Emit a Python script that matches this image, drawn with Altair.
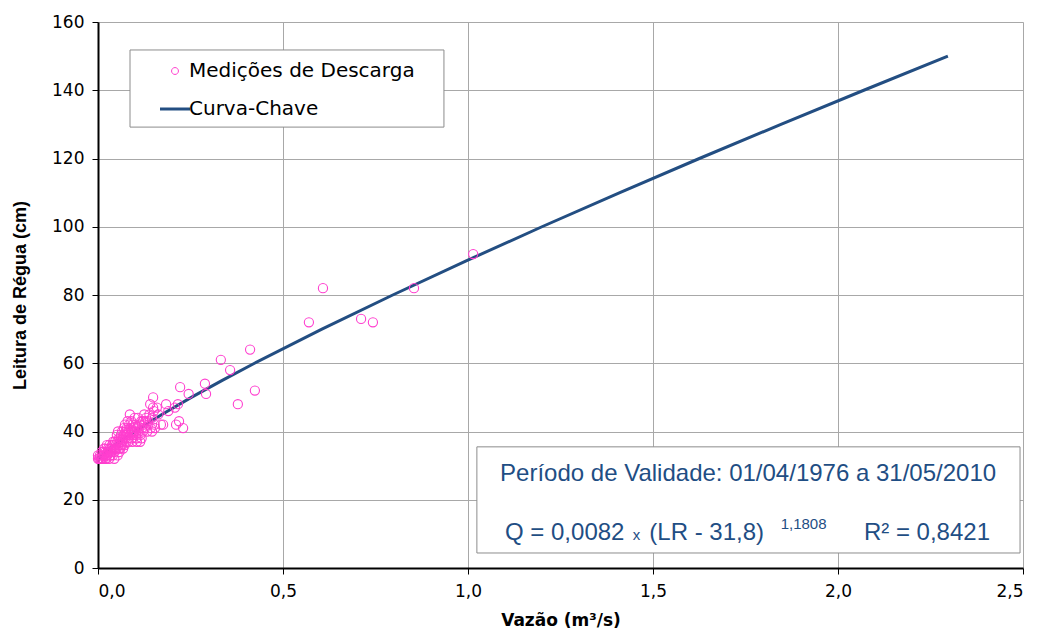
import altair as alt
import pandas as pd

# Medições de descarga: vazão (m³/s) e leitura de régua (cm)
vazao_medida = [
    0.000, 0.003, 0.005, 0.008, 0.010, 0.012, 0.014, 0.016, 0.018, 0.020,
    0.022, 0.024, 0.025, 0.027, 0.028, 0.030, 0.031, 0.033, 0.035, 0.036,
    0.038, 0.040, 0.041, 0.043, 0.045, 0.046, 0.048, 0.050, 0.051, 0.053,
    0.054, 0.055, 0.057, 0.058, 0.059, 0.060, 0.062, 0.063, 0.065, 0.065,
    0.067, 0.068, 0.070, 0.071, 0.072, 0.073, 0.074, 0.075, 0.077, 0.078,
    0.079, 0.080, 0.081, 0.082, 0.084, 0.086, 0.087, 0.088, 0.090, 0.091,
    0.092, 0.094, 0.095, 0.097, 0.099, 0.100, 0.102, 0.104, 0.105, 0.106,
    0.108, 0.110, 0.112, 0.114, 0.115, 0.117, 0.119, 0.121, 0.122, 0.124,
    0.127, 0.130, 0.133, 0.136, 0.139, 0.141, 0.143, 0.146, 0.146, 0.149,
    0.149, 0.151, 0.153, 0.154, 0.159, 0.163, 0.170, 0.176, 0.184, 0.190,
    0.208, 0.211, 0.216, 0.219, 0.222, 0.230, 0.245, 0.289, 0.292, 0.332,
    0.357, 0.378, 0.411, 0.424, 0.570, 0.608, 0.711, 0.743, 0.854, 1.014,
    0.015, 0.019, 0.026, 0.032, 0.037, 0.042, 0.047, 0.052, 0.056, 0.061,
    0.066, 0.069, 0.076, 0.083, 0.089, 0.096, 0.103, 0.118, 0.128, 0.135,
    0.125, 0.093, 0.006, 0.020, 0.034, 0.044, 0.011, 0.000,
]
leitura_medida = [
    32, 32, 33, 32, 34, 33, 32, 35, 33, 34,
    32, 36, 33, 35, 34, 32, 36, 33, 35, 34,
    36, 33, 37, 35, 34, 37, 36, 35, 39, 33,
    40, 36, 38, 34, 37, 35, 39, 36, 40, 37,
    38, 35, 41, 39, 36, 42, 38, 40, 37, 41,
    39, 43, 38, 40, 42, 45, 39, 41, 43, 38,
    40, 42, 39, 41, 44, 40, 42, 38, 37, 41,
    44, 40, 42, 37, 39, 43, 41, 40, 43, 42,
    41, 44, 40, 42, 45, 48, 41, 44, 40, 50,
    47, 46, 42, 41, 47, 45, 42, 42, 48, 46,
    47, 42, 48, 43, 53, 41, 51, 54, 51, 61,
    58, 48, 64, 52, 72, 82, 73, 72, 82, 92,
    33, 35, 34, 35, 34, 36, 35, 37, 35, 38,
    36, 39, 39, 37, 40, 40, 39, 38, 43, 43,
    45, 37, 32, 32, 33, 32, 32, 33,
]

# Curva-chave tabelada: leitura de régua (cm) e vazão correspondente (m³/s)
curva_leitura = [31.8, 33, 34, 35, 36, 40, 45, 50, 55, 60, 70, 80, 90,
                 100, 110, 120, 130, 140, 150]
curva_vazao = [0.0, 0.0102, 0.0208, 0.0324, 0.0446, 0.0984, 0.1726, 0.2522,
               0.3359, 0.4230, 0.6052, 0.7966, 0.9951, 1.1998, 1.4104,
               1.6253, 1.8458, 2.0697, 2.2970]

x_ticks = [0.0, 0.5, 1.0, 1.5, 2.0, 2.5]
y_ticks = [0, 20, 40, 60, 80, 100, 120, 140, 160]

series = ["Medições de Descarga", "Curva-Chave"]

MAGENTA = "#FF3FCF"
AZUL = "#234E82"
TEXTO_AZUL = "#1F4E84"

# small ring used for the measurements; a plain stroke for the curve legend entry
RING = "M-0.23,0A0.23,0.23,0,1,0,0.23,0A0.23,0.23,0,1,0,-0.23,0Z"
STROKE = "M-1,0H1"

medicoes = pd.DataFrame({"vazao": vazao_medida, "leitura": leitura_medida,
                         "serie": series[0]})
curva = pd.DataFrame({"vazao": curva_vazao, "leitura": curva_leitura,
                      "serie": series[1]})

x_scale = alt.Scale(domain=[0, 2.5], nice=False, zero=False)
y_scale = alt.Scale(domain=[0, 160], nice=False)
color_scale = alt.Scale(domain=series, range=[MAGENTA, AZUL])
shape_scale = alt.Scale(domain=series, range=[RING, STROKE])

legend = alt.Legend(
    title=None, orient="none", legendX=67, legendY=39, padding=0,
    labelFont="DejaVu Sans", labelFontSize=20, labelColor="black",
    labelOffset=4, labelLimit=400, symbolSize=900, rowPadding=18,
    symbolStrokeWidth=alt.ExprRef(expr="datum.value === 'Curva-Chave' ? 3 : 1"),
    symbolFillColor="transparent",
)

label_expr = "replace(format(datum.value, '.1f'), '.', ',')"

x_axis = alt.Axis(
    values=x_ticks, labelExpr=label_expr, title="Vazão (m³/s)",
    grid=True, gridColor="#a8a8a8", gridWidth=1,
    domainColor="black", domainWidth=2, tickColor="black", tickSize=6,
    labelFont="DejaVu Sans", labelFontSize=17, labelColor="black", labelPadding=9,
    titleFont="DejaVu Sans", titleFontSize=17, titleFontWeight="bold",
    titleColor="black", titlePadding=13,
)
y_axis = alt.Axis(
    values=y_ticks, title="Leitura de Régua (cm)",
    grid=True, gridColor="#a8a8a8", gridWidth=1,
    domainColor="black", domainWidth=2, tickColor="black", tickSize=6,
    labelFont="DejaVu Sans", labelFontSize=17, labelColor="black", labelPadding=8,
    titleFont="Liberation Sans", titleFontSize=18, titleFontWeight="bold",
    titleColor="black", titlePadding=22,
)

X = alt.X("vazao:Q", scale=x_scale, axis=x_axis)
Y = alt.Y("leitura:Q", scale=y_scale, axis=y_axis)

# legend frame
legend_box = alt.Chart(pd.DataFrame({"x": [0.0865], "x2": [0.935],
                                     "y": [129.2], "y2": [151.8]})).mark_rect(
    fill="white", stroke="#8c8c8c", strokeWidth=1
).encode(x="x:Q", x2="x2:Q", y="y:Q", y2="y2:Q")

# rating-curve information box
info_box = alt.Chart(pd.DataFrame({"x": [1.024], "x2": [2.492],
                                   "y": [4.4], "y2": [35.5]})).mark_rect(
    fill="white", stroke="#8c8c8c", strokeWidth=1
).encode(x="x:Q", x2="x2:Q", y="y:Q", y2="y2:Q")

pontos = alt.Chart(medicoes).mark_point(
    filled=False, size=1600, opacity=1
).encode(
    x=X, y=Y,
    color=alt.Color("serie:N", scale=color_scale, legend=legend),
    shape=alt.Shape("serie:N", scale=shape_scale, legend=legend),
    strokeWidth=alt.value(1.1),
)

linha = alt.Chart(curva).mark_line().encode(
    x=X, y=Y,
    color=alt.Color("serie:N", scale=color_scale, legend=legend),
    strokeWidth=alt.value(3),
)

periodo = pd.DataFrame({"x": [1.757], "y": [25.5],
                        "t": ["Período de Validade: 01/04/1976 a 31/05/2010"]})
texto_periodo = alt.Chart(periodo).mark_text(
    font="Liberation Sans", fontSize=24, color=TEXTO_AZUL,
    align="center", baseline="alphabetic"
).encode(x="x:Q", y="y:Q", text="t:N")

eq_main = pd.DataFrame({"x": [1.100, 1.490, 2.070], "y": [8.2, 8.2, 8.2],
                        "t": ["Q = 0,0082", "(LR - 31,8)", "R² = 0,8421"]})
texto_eq = alt.Chart(eq_main).mark_text(
    font="Liberation Sans", fontSize=24, color=TEXTO_AZUL,
    align="left", baseline="alphabetic"
).encode(x="x:Q", y="y:Q", text="t:N")

eq_small = pd.DataFrame({"x": [1.445, 1.845], "y": [8.2, 11.3],
                         "t": ["x", "1,1808"]})
texto_small = alt.Chart(eq_small).mark_text(
    font="Liberation Sans", fontSize=15, color=TEXTO_AZUL,
    align="left", baseline="alphabetic"
).encode(x="x:Q", y="y:Q", text="t:N")

chart = alt.layer(
    legend_box, info_box, linha, pontos, texto_periodo, texto_eq, texto_small
).resolve_scale(color="shared").properties(
    width=925, height=546,
    autosize=alt.AutoSizeParams(type="none"),
    padding={"left": 98, "top": 22, "right": 15, "bottom": 63},
).configure_view(stroke="transparent").configure(background="white")

chart.save("out.html", embed_options={"renderer": "svg", "actions": False})
